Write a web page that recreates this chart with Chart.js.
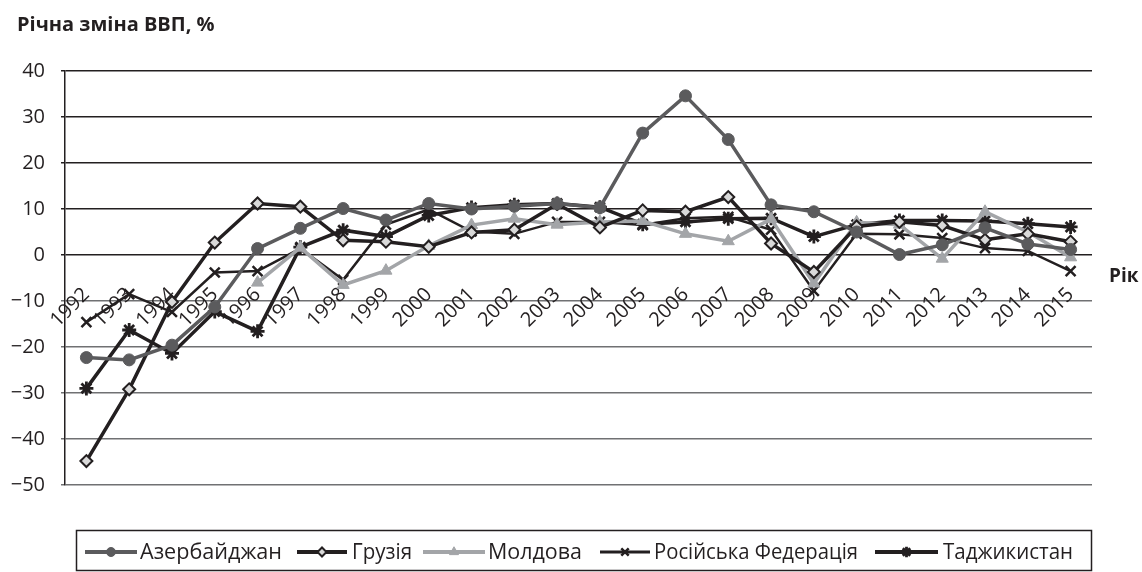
<!DOCTYPE html>
<html><head><meta charset="utf-8">
<script src="https://cdn.jsdelivr.net/npm/chart.js@4/dist/chart.umd.min.js"></script>
<style>html,body{margin:0;padding:0;background:#fff;}#wrap{width:1142px;height:572px;}</style>
</head><body><div id="wrap"><canvas id="c" width="1142" height="572"></canvas></div>
<script>
const years = ['1992','1993','1994','1995','1996','1997','1998','1999','2000','2001','2002','2003','2004','2005','2006','2007','2008','2009','2010','2011','2012','2013','2014','2015'];
const azerbaijan = [-22.3,-22.8,-19.6,-11.3,1.4,5.8,10.1,7.6,11.2,10.0,10.6,11.2,10.3,26.5,34.6,25.1,10.9,9.4,5.0,0.1,2.2,5.9,2.4,1.2];
const georgia    = [-44.8,-29.2,-10.2,2.7,11.2,10.5,3.2,2.9,1.8,4.9,5.5,11.1,6.0,9.7,9.4,12.6,2.5,-3.7,6.2,7.2,6.4,3.3,4.6,2.9];
const moldova    = [null,null,null,null,-6.0,1.6,-6.5,-3.4,2.0,6.5,7.9,6.6,7.2,7.4,4.6,3.0,7.8,-6.2,7.1,6.6,-0.8,9.4,5.0,-0.5];
const russia     = [-14.6,-8.5,-12.4,-3.8,-3.5,1.4,-5.4,6.6,9.9,5.1,4.6,7.2,7.2,6.5,8.0,8.3,5.5,-7.8,4.6,4.5,3.7,1.5,0.9,-3.5];
const tajikistan = [-29.0,-16.3,-21.4,-12.3,-16.6,1.7,5.4,4.0,8.6,10.3,10.9,11.2,10.4,6.7,7.2,7.9,8.0,4.0,6.6,7.5,7.5,7.4,6.8,6.1];
const seriesNames = ['Азербайджан','Грузія','Молдова','Російська Федерація','Таджикистан'];
const yTicks = [40,30,20,10,0,-10,-20,-30,-40,-50];
const titleText = 'Річна зміна ВВП, %';
const xTitle = 'Рік';

const INK = '#231f20';
const FONT = '"Open Sans", "Noto Sans", sans-serif';

// legend layout (line start, line end, text start, text max width)
const legendSlots = [[85,137,140,142],[297,347,352,60],[423,485,488,94],[600,650,654,204],[875,938,943,130]];

const datasets = [
  {label: seriesNames[0], data: azerbaijan, borderColor:'#5b5b5d', borderWidth:3.5,
   pointStyle:'circle', pointRadius:6, pointBackgroundColor:'#5b5b5d', pointBorderColor:'#5b5b5d', pointBorderWidth:1},
  {label: seriesNames[1], data: georgia, borderColor:INK, borderWidth:3.5,
   pointStyle:'rectRot', pointRadius:6, pointBackgroundColor:'#d9d9d9', pointBorderColor:INK, pointBorderWidth:2},
  {label: seriesNames[2], data: moldova, borderColor:'#a3a5a8', borderWidth:3.5,
   pointStyle:'triangle', pointRadius:7, pointBackgroundColor:'#a3a5a8', pointBorderColor:'#a3a5a8', pointBorderWidth:1},
  {label: seriesNames[3], data: russia, borderColor:INK, borderWidth:2.5,
   pointStyle:'crossRot', pointRadius:7, pointBackgroundColor:INK, pointBorderColor:INK, pointBorderWidth:2.5},
  {label: seriesNames[4], data: tajikistan, borderColor:INK, borderWidth:3.5,
   pointStyle:'star', pointRadius:7, pointBackgroundColor:INK, pointBorderColor:INK, pointBorderWidth:2.8}
].map(d => Object.assign({fill:false, tension:0, spanGaps:false, pointHoverRadius:d.pointRadius}, d));

const decor = {
  id:'decor',
  afterDraw(chart){
    const ctx = chart.ctx;
    ctx.save();
    ctx.fillStyle = INK;
    ctx.font = 'bold 20px ' + FONT;
    ctx.textAlign = 'left'; ctx.textBaseline = 'middle';
    ctx.fillText(titleText, 17, 25);
    ctx.font = 'bold 19px ' + FONT;
    ctx.fillText(xTitle, 1109, 277);
    // legend box
    ctx.strokeStyle = INK; ctx.lineWidth = 1.5;
    ctx.strokeRect(76.5, 530.5, 1015, 40);
    ctx.font = '22px ' + FONT;
    const y = 552;
    chart.data.datasets.forEach((ds, i) => {
      const [l0, l1, tx, tw] = legendSlots[i];
      ctx.strokeStyle = ds.borderColor; ctx.lineWidth = ds.borderWidth + 0.5;
      ctx.beginPath(); ctx.moveTo(l0, y); ctx.lineTo(l1, y); ctx.stroke();
      ctx.fillStyle = ds.pointBackgroundColor; ctx.strokeStyle = ds.pointBorderColor; ctx.lineWidth = ds.pointBorderWidth;
      Chart.helpers.drawPoint(ctx, {pointStyle: ds.pointStyle, radius: ds.pointRadius * 0.75, rotation: 0, borderWidth: ds.pointBorderWidth}, (l0 + l1) / 2, y);
      ctx.fillStyle = INK; ctx.textAlign = 'left'; ctx.textBaseline = 'middle';
      ctx.fillText(ds.label, tx, y + 1, tw);
    });
    ctx.restore();
  }
};

new Chart(document.getElementById('c'), {
  type:'line',
  data:{labels: years, datasets},
  options:{
    responsive:false, animation:false, devicePixelRatio:1,
    layout:{padding:{left:0, top:71, right:50, bottom:87}},
    plugins:{legend:{display:false}, tooltip:{enabled:false}, title:{display:false}},
    scales:{
      x:{
        type:'category', offset:true,
        position:{y:0},
        grid:{display:false, drawTicks:false},
        border:{display:false},
        ticks:{autoSkip:false, maxRotation:45, minRotation:45, padding:28, color:INK, font:{family:FONT, size:20}}
      },
      y:{
        min:-50, max:40,
        afterBuildTicks(scale){ scale.ticks = yTicks.map(v => ({value:v})); },
        afterFit(scale){ scale.width = 65; },
        grid:{color: c => (c.tick && c.tick.value < 0) ? '#707173' : INK, lineWidth:1.5, tickLength:4, drawTicks:true},
        border:{display:true, color:INK, width:1.5},
        ticks:{padding:16, color:INK, font:{family:FONT, size:20},
          callback: v => (v < 0 ? '\u2212' + Math.abs(v) : String(v))}
      }
    }
  },
  plugins:[decor]
});
</script>
</body></html>
